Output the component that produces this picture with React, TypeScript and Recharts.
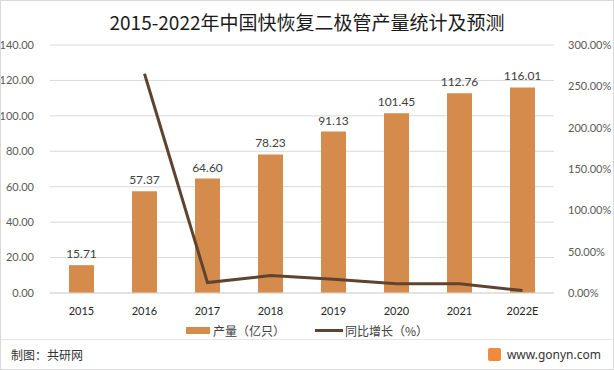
import React from 'react';
import { ComposedChart, Bar, Line, XAxis, YAxis, CartesianGrid, LabelList } from 'recharts';

const years = ['2015', '2016', '2017', '2018', '2019', '2020', '2021', '2022E'];
const output = [15.71, 57.37, 64.6, 78.23, 91.13, 101.45, 112.76, 116.01];
const growth = [null, 265.2, 12.6, 21.1, 16.5, 11.3, 11.1, 2.9];

const leftTicks = [0, 20, 40, 60, 80, 100, 120, 140];
const rightTicks = [0, 50, 100, 150, 200, 250, 300];

const BAR_COLOR = '#D58B4C';
const LINE_COLOR = '#5E4330';
const FONT = 'Lato, "Noto Sans CJK SC", sans-serif';

const data = years.map((y, i) => ({ year: y, output: output[i], growth: growth[i] }));

export default function App() {
  return (
    <div
      style={{
        position: 'absolute',
        left: 0,
        top: 0,
        width: 614,
        height: 370,
        background: '#fff',
        boxSizing: 'border-box',
        border: '1px solid #d9d9d9',
        fontFamily: FONT,
        overflow: 'hidden',
      }}
    >
      <div
        style={{
          position: 'absolute',
          top: 7,
          left: 0,
          width: 612,
          textAlign: 'center',
          fontSize: 19,
          color: '#1a1a1a',
          fontFamily: '"Noto Sans CJK SC", sans-serif',
        }}
      >
        2015-2022年中国快恢复二极管产量统计及预测
      </div>
      <div style={{ position: 'absolute', left: -1, top: -1 }}>
        <ComposedChart
          width={614}
          height={340}
          data={data}
          margin={{ top: 45, right: 0, left: 0, bottom: 0 }}
          barCategoryGap="30%"
        >
          <CartesianGrid vertical={false} stroke="#d9d9d9" yAxisId="left" />
          <XAxis
            dataKey="year"
            axisLine={{ stroke: '#d9d9d9' }}
            tickLine={false}
            tick={{ fontSize: 11, fill: '#262626', fontFamily: FONT }}
            height={47}
            tickMargin={8}
            interval={0}
          />
          <YAxis
            yAxisId="left"
            domain={[0, 140]}
            ticks={leftTicks}
            width={50}
            axisLine={false}
            tickLine={false}
            tick={{ fontSize: 11, fill: '#595959', fontFamily: FONT }}
            tickFormatter={(v: number) => v.toFixed(2)}
            tickMargin={10}
          />
          <YAxis
            yAxisId="right"
            orientation="right"
            domain={[0, 300]}
            ticks={rightTicks}
            width={60}
            axisLine={false}
            tickLine={false}
            tick={{ fontSize: 11, fill: '#595959', fontFamily: FONT }}
            tickFormatter={(v: number) => v.toFixed(2) + '%'}
            tickMargin={8}
          />
          <Bar yAxisId="left" dataKey="output" fill={BAR_COLOR} barSize={25} isAnimationActive={false}>
            <LabelList
              dataKey="output"
              position="top"
              offset={7}
              formatter={(v: number) => v.toFixed(2)}
              style={{ fontSize: 12, fill: '#404040', fontFamily: FONT }}
            />
          </Bar>
          <Line
            yAxisId="right"
            dataKey="growth"
            stroke={LINE_COLOR}
            strokeWidth={3}
            dot={false}
            type="linear"
            connectNulls={false}
            isAnimationActive={false}
          />
        </ComposedChart>
      </div>
      <div
        style={{
          position: 'absolute',
          top: 321,
          left: 0,
          width: 612,
          display: 'flex',
          justifyContent: 'center',
          alignItems: 'center',
          fontSize: 12,
          color: '#404040',
          fontFamily: '"Noto Sans CJK SC", sans-serif',
        }}
      >
        <span style={{ display: 'inline-block', width: 24, height: 7, background: BAR_COLOR, marginRight: 3 }} />
        <span style={{ marginRight: 30 }}>产量（亿只）</span>
        <span style={{ display: 'inline-block', width: 28, height: 3, background: LINE_COLOR, marginRight: 2 }} />
        <span>同比增长（%）</span>
      </div>
      <div style={{ position: 'absolute', top: 338, left: 0, width: 612, borderTop: '1px solid #e6e6e6' }} />
      <div
        style={{
          position: 'absolute',
          top: 345,
          left: 10,
          fontSize: 12,
          color: '#333',
          fontFamily: '"Noto Sans CJK SC", sans-serif',
        }}
      >
        制图：共研网
      </div>
      <div
        style={{
          position: 'absolute',
          top: 345,
          right: 12,
          fontSize: 12,
          color: '#333',
          display: 'flex',
          alignItems: 'center',
          fontFamily: '"Noto Sans", sans-serif',
        }}
      >
        <span
          style={{
            display: 'inline-block',
            width: 13,
            height: 13,
            background: '#F08A3C',
            borderRadius: 2,
            marginRight: 6,
          }}
        />
        www.gonyn.com
      </div>
    </div>
  );
}
